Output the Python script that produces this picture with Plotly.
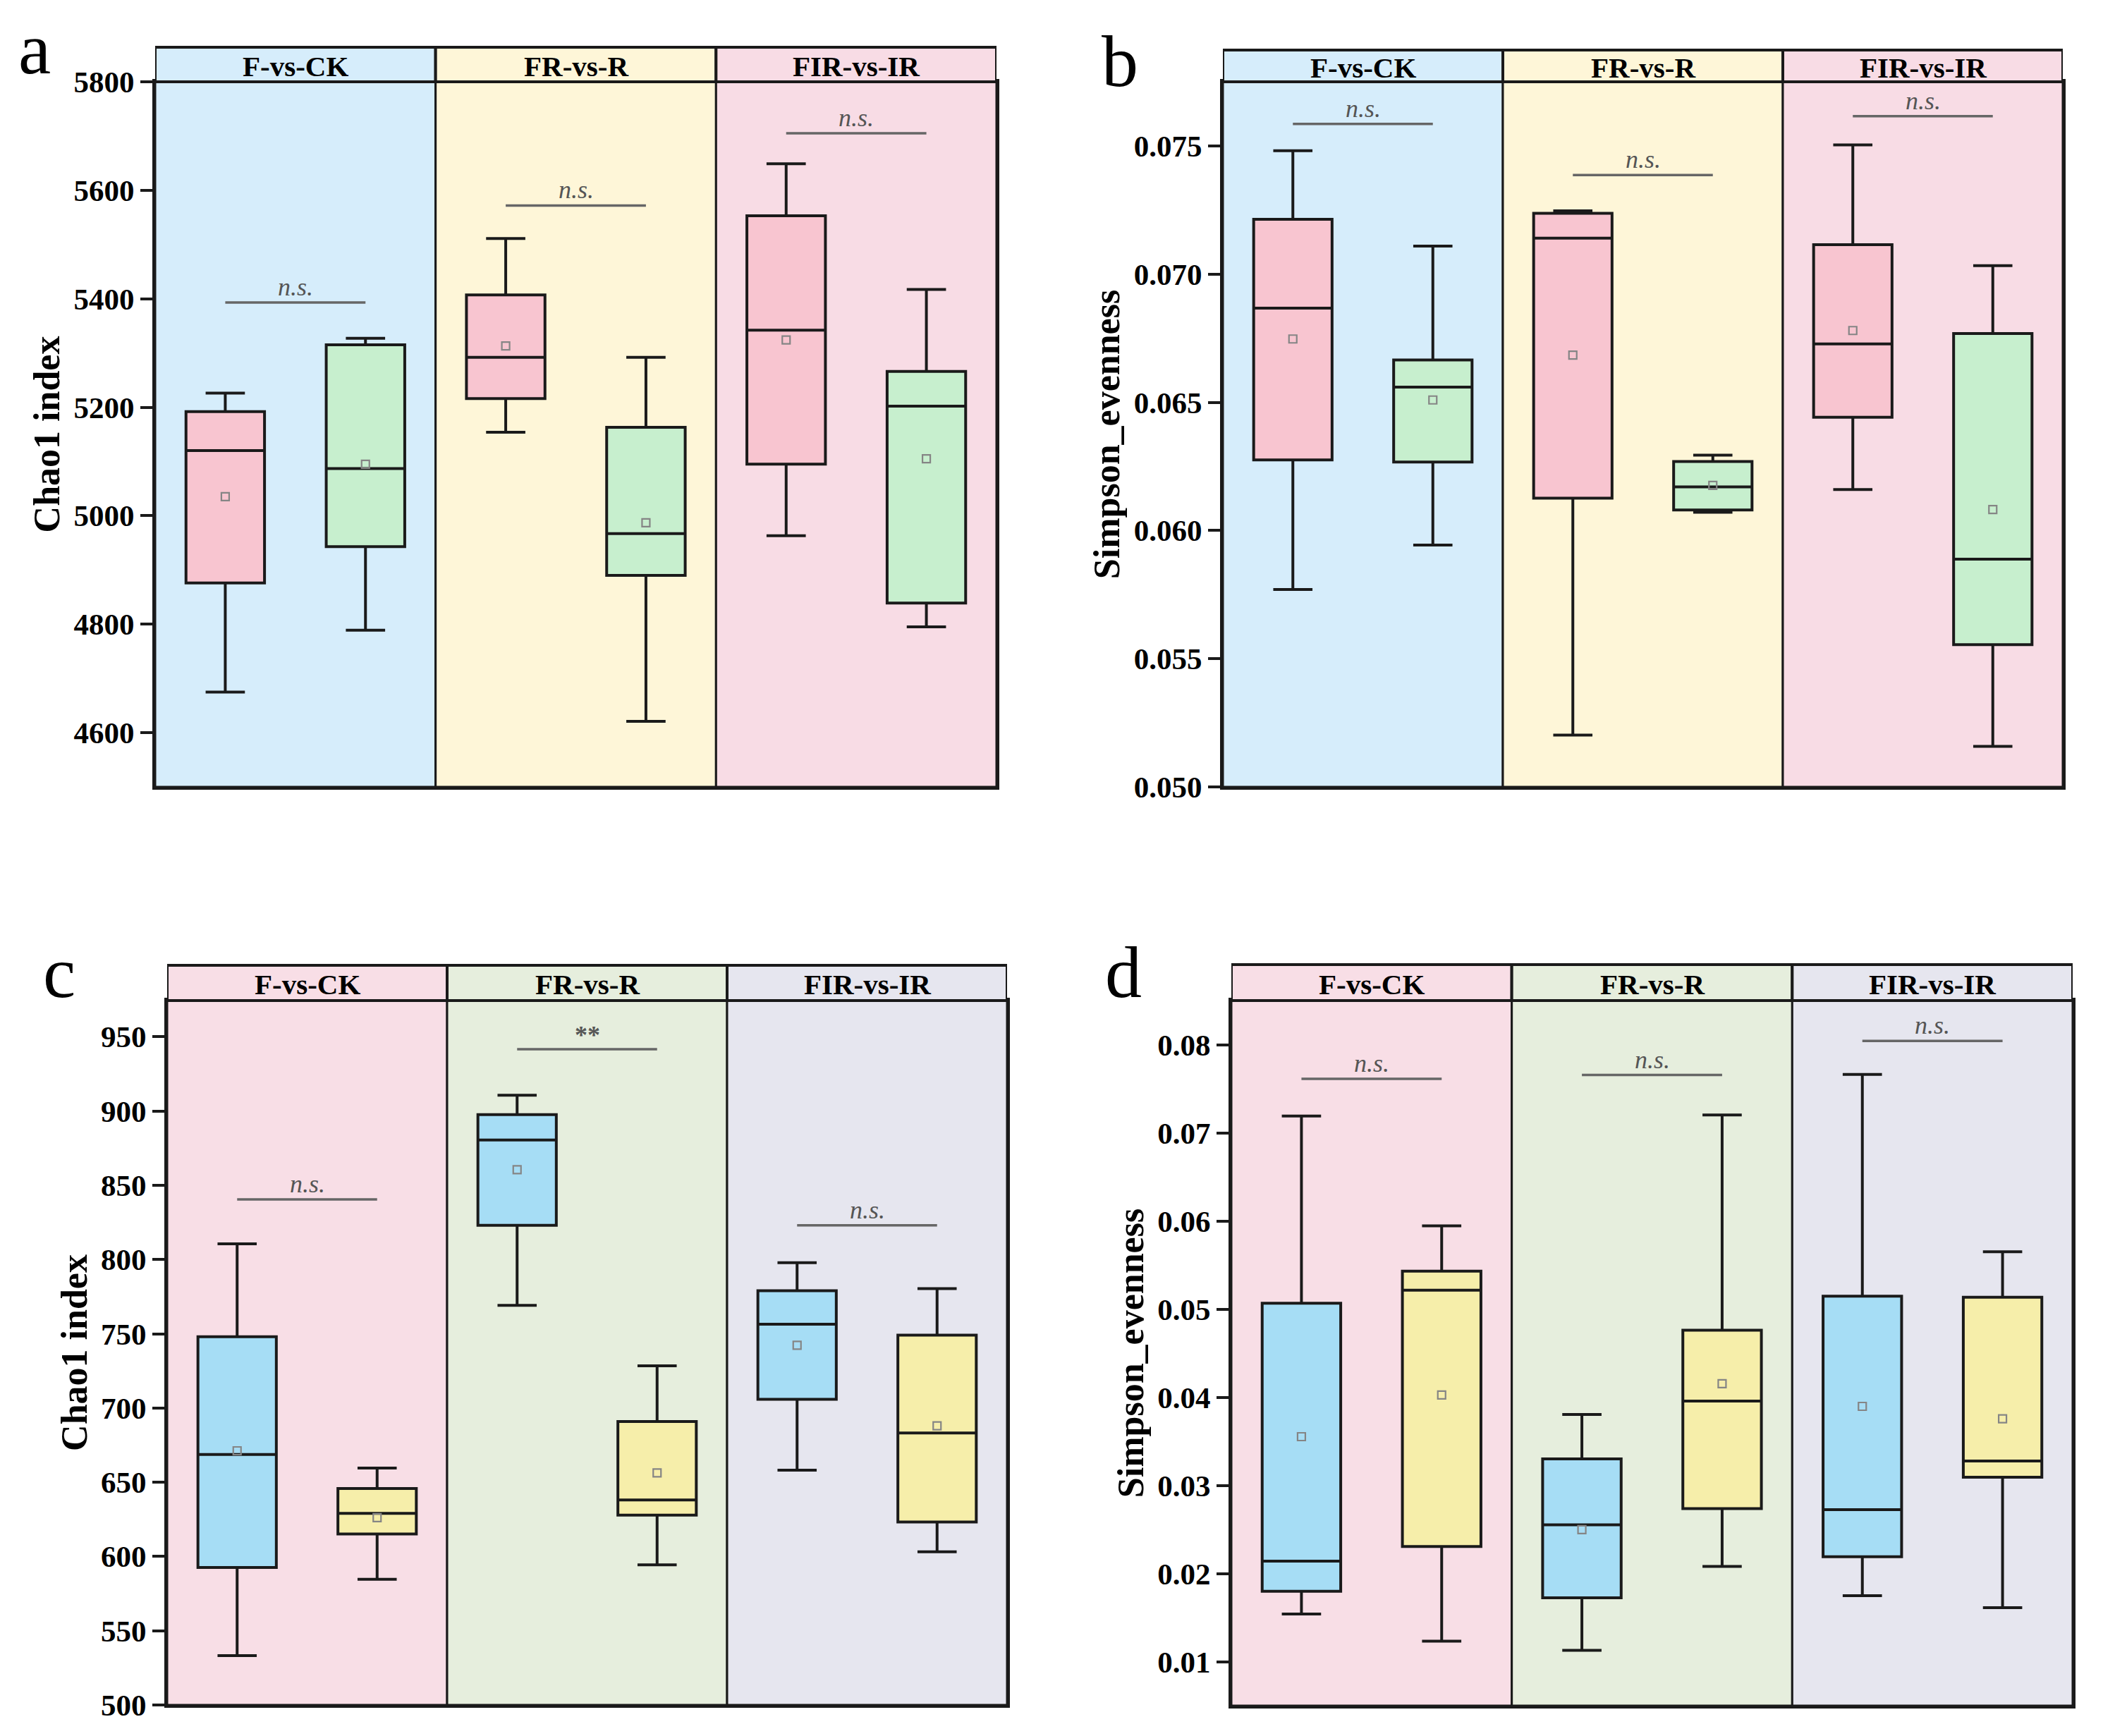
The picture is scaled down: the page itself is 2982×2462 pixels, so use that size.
import plotly.graph_objects as go

W, H = 2982, 2462
PAGE_MARGIN = 8  # default body margin of the html page
FW, FH = W - 2 * PAGE_MARGIN, H - 2 * PAGE_MARGIN

groups = ["F-vs-CK", "FR-vs-R", "FIR-vs-IR"]

# stats per group: (lower whisker, Q1, median, Q3, upper whisker, mean)
a_treat = [(4675, 4876, 5120, 5192, 5226, 5035), (5154, 5216, 5292, 5407, 5511, 5313), (4963, 5095, 5342, 5553, 5649, 5324)]
a_ctrl = [(4789, 4943, 5087, 5315, 5327, 5095), (4621, 4890, 4967, 5163, 5292, 4987), (4795, 4839, 5202, 5266, 5417, 5105)]
a_sig = [5393, 5572, 5705]
a_sig_text = ["n.s.", "n.s.", "n.s."]
a_ticks = [4600, 4800, 5000, 5200, 5400, 5600, 5800]

b_treat = [(0.05770, 0.06275, 0.06867, 0.07214, 0.07481, 0.06747), (0.05202, 0.06126, 0.07140, 0.07237, 0.07247, 0.06684), (0.06160, 0.06442, 0.06728, 0.07115, 0.07504, 0.06780)]
b_ctrl = [(0.05943, 0.06267, 0.06559, 0.06665, 0.07109, 0.06509), (0.06071, 0.06080, 0.06170, 0.06269, 0.06294, 0.06176), (0.05158, 0.05555, 0.05888, 0.06768, 0.07033, 0.06082)]
b_sig = [0.07586, 0.07386, 0.07616]
b_sig_text = ["n.s.", "n.s.", "n.s."]
b_ticks = [0.050, 0.055, 0.060, 0.065, 0.070, 0.075]

c_treat = [(533.3, 592.6, 668.7, 748.0, 810.6, 671.2), (769.1, 823.0, 880.5, 897.6, 910.7, 860.5), (658.1, 705.8, 756.4, 779.0, 797.9, 742.2)]
c_ctrl = [(584.6, 615.2, 629.0, 645.8, 659.6, 626.1), (594.4, 627.9, 638.1, 690.9, 728.4, 656.3), (603.2, 623.2, 683.2, 749.1, 780.4, 688.0)]
c_sig = [840.5, 941.6, 823.0]
c_sig_text = ["n.s.", "**", "n.s."]
c_ticks = [500, 550, 600, 650, 700, 750, 800, 850, 900, 950]

d_treat = [(0.01540, 0.01798, 0.02141, 0.05067, 0.07190, 0.03552), (0.01129, 0.01724, 0.02552, 0.03300, 0.03804, 0.02497), (0.01748, 0.02190, 0.02724, 0.05147, 0.07663, 0.03896)]
d_ctrl = [(0.01233, 0.02307, 0.05215, 0.05430, 0.05945, 0.04025), (0.02080, 0.02736, 0.03957, 0.04761, 0.07202, 0.04153), (0.01613, 0.03092, 0.03276, 0.05135, 0.05650, 0.03755)]
d_sig = [0.07613, 0.07656, 0.08043]
d_sig_text = ["n.s.", "n.s.", "n.s."]
d_ticks = [0.01, 0.02, 0.03, 0.04, 0.05, 0.06, 0.07, 0.08]

# styling
bg_top = ["#D6EDFB", "#FEF6D8", "#F8DCE5"]
bg_bot = ["#F8DEE6", "#E6EEDD", "#E6E6EF"]
top_treat_col, top_ctrl_col = "#F8C5D0", "#C7EFCE"
bot_treat_col, bot_ctrl_col = "#A6DDF5", "#F6EEAA"

panels = [
    dict(letter="a", treat=a_treat, ctrl=a_ctrl, sig=a_sig, sigt=a_sig_text, ticks=a_ticks, rng=[4500, 5800],
         fmt="d", title="Chao1 index", px=(220, 1413), py=(116, 1116), strip=67, bg=bg_top,
         tc=top_treat_col, cc=top_ctrl_col, lpos=(49, 68)),
    dict(letter="b", treat=b_treat, ctrl=b_ctrl, sig=b_sig, sigt=b_sig_text, ticks=b_ticks, rng=[0.05, 0.0775],
         fmt=".3f", title="Simpson_evenness", px=(1734, 2925), py=(116, 1116), strip=71, bg=bg_top,
         tc=top_treat_col, cc=top_ctrl_col, lpos=(1588, 86)),
    dict(letter="c", treat=c_treat, ctrl=c_ctrl, sig=c_sig, sigt=c_sig_text, ticks=c_ticks, rng=[500, 974.4],
         fmt="d", title="Chao1 index", px=(237, 1428), py=(1419, 2418), strip=1369, bg=bg_bot,
         tc=bot_treat_col, cc=bot_ctrl_col, lpos=(84, 1378)),
    dict(letter="d", treat=d_treat, ctrl=d_ctrl, sig=d_sig, sigt=d_sig_text, ticks=d_ticks, rng=[0.005, 0.085],
         fmt=".2f", title="Simpson_evenness", px=(1746, 2939), py=(1419, 2419), strip=1368, bg=bg_bot,
         tc=bot_treat_col, cc=bot_ctrl_col, lpos=(1593, 1378)),
]


def fx(px):
    return (px - PAGE_MARGIN) / FW


def fy(py):
    return 1 - (py - PAGE_MARGIN) / FH


fig = go.Figure()
shapes = []
annotations = []
FONT = "Liberation Serif"

for k, p in enumerate(panels):
    sfx = "" if k == 0 else str(k + 1)
    xa, ya = "x" + sfx, "y" + sfx
    xdom = [fx(p["px"][0]), fx(p["px"][1])]
    ydom = [fy(p["py"][1]), fy(p["py"][0])]
    plot_h = p["py"][1] - p["py"][0]
    strip_top = 1 + (p["py"][0] - p["strip"]) / plot_h

    for series, col, off in [(p["treat"], p["tc"], 0), (p["ctrl"], p["cc"], 1)]:
        xs = [2 * i + off for i in range(3)]
        fig.add_trace(go.Box(
            x=xs,
            lowerfence=[s[0] for s in series],
            q1=[s[1] for s in series],
            median=[s[2] for s in series],
            q3=[s[3] for s in series],
            upperfence=[s[4] for s in series],
            width=0.56, whiskerwidth=0.5,
            fillcolor=col, line=dict(color="#1a1a1a", width=4),
            boxpoints=False, xaxis=xa, yaxis=ya, showlegend=False, hoverinfo="skip",
        ))
        fig.add_trace(go.Scatter(
            x=xs, y=[s[5] for s in series], mode="markers",
            marker=dict(symbol="square-open", size=11, color="#858585", line=dict(width=2.2, color="#858585")),
            xaxis=xa, yaxis=ya, showlegend=False, hoverinfo="skip",
        ))

    for i in range(3):
        x0, x1 = 2 * i - 0.5, 2 * i + 1.5
        shapes.append(dict(type="rect", xref=xa, yref=ya + " domain", x0=x0, x1=x1, y0=0, y1=1,
                           fillcolor=p["bg"][i], line=dict(color="#1a1a1a", width=3), layer="below"))
        shapes.append(dict(type="rect", xref=xa, yref=ya + " domain", x0=x0, x1=x1, y0=1, y1=strip_top,
                           fillcolor=p["bg"][i], line=dict(color="#1a1a1a", width=4), layer="above"))
        annotations.append(dict(text=groups[i], xref=xa, yref=ya + " domain", x=2 * i + 0.5,
                                y=(1 + strip_top) / 2, xanchor="center", yanchor="middle", showarrow=False,
                                font=dict(family=FONT, size=41, color="black", weight="bold"), yshift=-2))
        shapes.append(dict(type="line", xref=xa, yref=ya, x0=2 * i, x1=2 * i + 1, y0=p["sig"][i], y1=p["sig"][i],
                           line=dict(color="#666666", width=3.5), layer="above"))
        star = p["sigt"][i] == "**"
        annotations.append(dict(text=p["sigt"][i], xref=xa, yref=ya, x=2 * i + 0.5, y=p["sig"][i],
                                xanchor="center", yanchor="bottom", showarrow=False, yshift=-2 if star else 0,
                                font=dict(family=FONT, size=36, color="#555555",
                                          style="normal" if star else "italic",
                                          weight="bold" if star else "normal")))

    annotations.append(dict(text=p["letter"], xref="paper", yref="paper", x=fx(p["lpos"][0]),
                            y=fy(p["lpos"][1]), xanchor="center", yanchor="middle", showarrow=False,
                            font=dict(family=FONT, size=104, color="black")))

    fig.update_layout(**{
        ("xaxis" + sfx): dict(domain=xdom, range=[-0.5, 5.5], showticklabels=False, ticks="",
                              showgrid=False, zeroline=False, showline=True, mirror=True, automargin=False,
                              linecolor="#1a1a1a", linewidth=4, fixedrange=True, anchor=ya),
        ("yaxis" + sfx): dict(domain=ydom, range=p["rng"], tickvals=p["ticks"], tickformat=p["fmt"],
                              ticks="outside", ticklen=17, tickwidth=4, tickcolor="#1a1a1a", automargin=False,
                              showgrid=False, zeroline=False, showline=True, mirror=True,
                              linecolor="#1a1a1a", linewidth=4, anchor=xa,
                              tickfont=dict(family=FONT, size=43, color="black", weight="bold"),
                              title=dict(text=p["title"], standoff=4,
                                         font=dict(family=FONT, size=52, color="black", weight="bold"))),
    })

fig.update_layout(template="none", width=FW, height=FH, autosize=False, margin=dict(l=0, r=0, t=0, b=0, pad=0),
                  paper_bgcolor="white", plot_bgcolor="white", showlegend=False,
                  shapes=shapes, annotations=annotations)

fig.write_html("out.html")
